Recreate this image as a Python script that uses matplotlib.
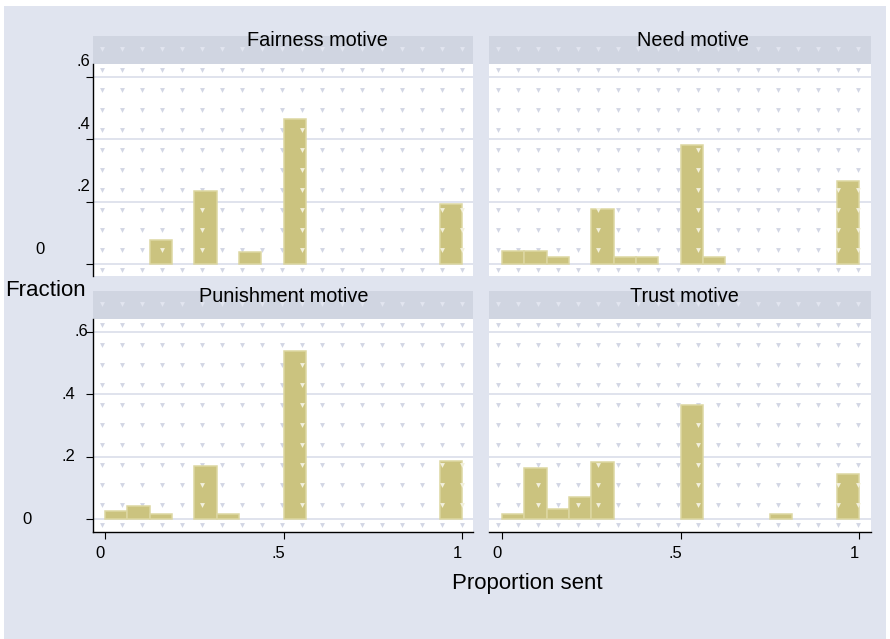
import numpy as np
import matplotlib
matplotlib.use("Agg")
import matplotlib.pyplot as plt
from matplotlib.patches import Rectangle

plt.rcParams['font.family'] = ['Liberation Sans', 'DejaVu Sans']

# 16 bins of width 1/16 on [0, 1]; heights are fractions of respondents
bin_edges = np.linspace(0, 1, 17)
fairness = [0, 0, 0.076, 0, 0.233, 0, 0.038, 0, 0.465, 0, 0, 0, 0, 0, 0, 0.193]
need = [0.043, 0.043, 0.021, 0, 0.177, 0.021, 0.021, 0, 0.380, 0.021, 0, 0, 0, 0, 0, 0.267]
punishment = [0.026, 0.042, 0.016, 0, 0.169, 0.016, 0, 0, 0.537, 0, 0, 0, 0, 0, 0, 0.186]
trust = [0.016, 0.162, 0.033, 0.071, 0.182, 0, 0, 0, 0.365, 0, 0, 0, 0.016, 0, 0, 0.143]

panel_titles = ["Fairness motive", "Need motive", "Punishment motive", "Trust motive"]
yticks = [0, 0.2, 0.4, 0.6]
ytick_labels = ["0", ".2", ".4", ".6"]
xticks = [0, 0.5, 1]
xtick_labels = ["0", ".5", "1"]

W, H = 890, 639
BG = '#e0e4ef'
STRIP = '#d0d5e1'
GRID = '#dde1ec'
BAR = '#cbc37f'
BAR_EDGE = '#dcd7a2'
DOT = '#d2d6e4'
DOT_BAR = '#f2f0dc'
PX_X = 357.0   # pixels per unit on x
PX_Y = 312.0   # pixels per unit on y

fig = plt.figure(figsize=(W / 100, H / 100), dpi=100, facecolor='white')
fig.patches.append(Rectangle((4 / W, 0), 882 / W, 633 / H, transform=fig.transFigure,
                             facecolor=BG, edgecolor='none', zorder=-10))


def px_axes(x0, y0, x1, y1, **kw):
    return fig.add_axes([x0 / W, 1 - y1 / H, (x1 - x0) / W, (y1 - y0) / H], **kw)


# (left, top, right, bottom) of each plot region, plus pixel of x=0 and y=0
panels = [
    dict(box=(93, 64, 473, 276), zero=(105, 264), data=fairness, left=True, bottom=False),
    dict(box=(489, 64, 871, 276), zero=(502, 264), data=need, left=False, bottom=False),
    dict(box=(93, 319, 473, 532), zero=(105, 519), data=punishment, left=True, bottom=True),
    dict(box=(489, 319, 871, 532), zero=(502, 519), data=trust, left=False, bottom=True),
]
title_x = [317, 693, 284, 684]
ylab_right_top = [45, 90, 90, 90]
ylab_right_bot = [32, 75, 75, 88]

for i, p in enumerate(panels):
    x0, y0, x1, y1 = p['box']
    zx, zy = p['zero']
    heights = np.array(p['data'])

    # strip with the panel title
    sy0 = y0 - 28
    sax = px_axes(x0, sy0, x1, y0, facecolor=STRIP)
    sax.set_xticks([])
    sax.set_yticks([])
    for s in sax.spines.values():
        s.set_visible(False)
    sx = np.arange(x0 + 9, x1, 20)
    sax.plot((sx - x0) / (x1 - x0), np.full(len(sx), 0.55), ls='none', marker='v',
             ms=3.5, mew=0, color='#e2e5ef', transform=sax.transAxes)
    sax.set_xlim(0, 1)
    sax.set_ylim(0, 1)
    fig.text(title_x[i] / W, 1 - (sy0 + 5) / H, panel_titles[i], ha='center', va='center',
             fontsize=14.3, color='black')

    ax = px_axes(x0, y0, x1, y1, facecolor='white')
    ax.set_xlim(-(zx - x0) / PX_X, (x1 - zx) / PX_X)
    ax.set_ylim(-(y1 - zy) / PX_Y, (zy - y0) / PX_Y)

    for yv in yticks:
        ax.axhline(yv, color=GRID, lw=1.3, zorder=1)

    filled = heights > 0
    ax.bar(bin_edges[:-1][filled], heights[filled], width=1 / 16, align='edge', color=BAR,
           edgecolor=BAR_EDGE, linewidth=1.1, zorder=2)

    # faint dotted texture over the plot region
    gx = (np.arange(x0 + 9, x1, 20) - zx) / PX_X
    gy = (zy - np.arange(y0 + 6, y1, 20)) / PX_Y
    GX, GY = np.meshgrid(gx, gy)
    GX, GY = GX.ravel(), GY.ravel()
    idx = np.clip(np.floor(GX * 16).astype(int), 0, 15)
    inside = (GX >= 0) & (GX <= 1) & (GY > 0) & (GY < heights[idx])
    ax.plot(GX[~inside], GY[~inside], ls='none', marker='v', ms=3.5, mew=0,
            color=DOT, zorder=1.5)
    ax.plot(GX[inside], GY[inside], ls='none', marker='v', ms=3.5, mew=0,
            color=DOT_BAR, zorder=3)

    for s in ax.spines.values():
        s.set_visible(False)
    ax.tick_params(length=5, width=0.8, color='black', labelleft=False, labelbottom=False)

    if p['left']:
        ax.spines['left'].set_visible(True)
        ax.spines['left'].set_linewidth(1.0)
        ax.set_yticks(yticks)
        rights = ylab_right_top if not p['bottom'] else ylab_right_bot
        dy = 15 if not p['bottom'] else 0
        for yv, lab, r in zip(yticks, ytick_labels, rights):
            ax.annotate(lab, xy=(0, yv), xycoords=('axes fraction', 'data'),
                        xytext=(r - x0, dy), textcoords='offset pixels',
                        ha='right', va='center', fontsize=12)
    else:
        ax.set_yticks([])

    if p['bottom']:
        ax.spines['bottom'].set_visible(True)
        ax.spines['bottom'].set_linewidth(1.0)
        ax.set_xticks(xticks)
        for xv, lab in zip(xticks, xtick_labels):
            ax.annotate(lab, xy=(xv, 0), xycoords=('data', 'axes fraction'),
                        xytext=(-5, -22), textcoords='offset pixels',
                        ha='center', va='center', fontsize=12)
    else:
        ax.set_xticks([])

fig.text(5 / W, 1 - 291 / H, "Fraction", ha='left', va='center', fontsize=16)
fig.text(527 / W, 1 - 584 / H, "Proportion sent", ha='center', va='center', fontsize=16)

fig.savefig("out.png", dpi=100, facecolor=fig.get_facecolor())
